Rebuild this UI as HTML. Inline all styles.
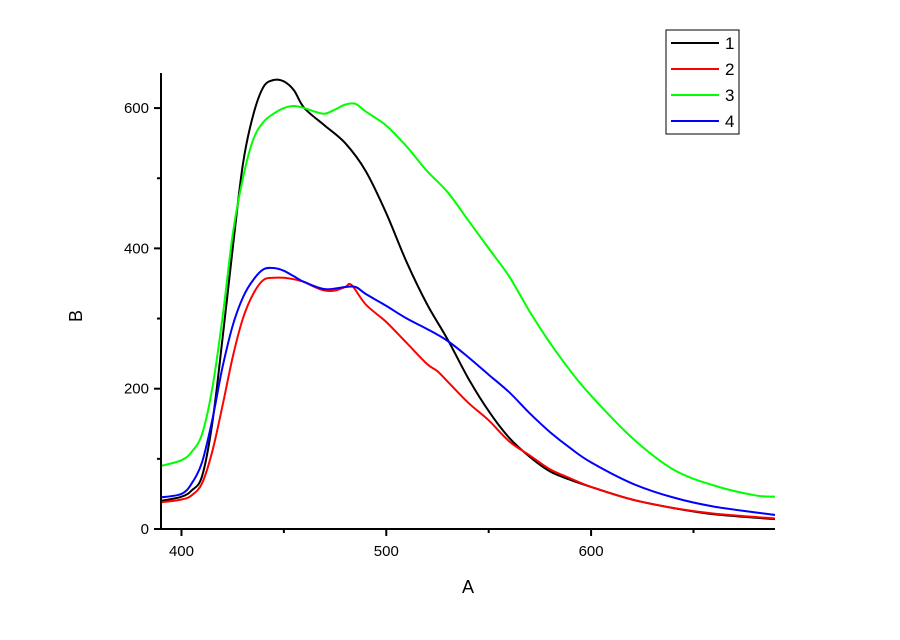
<!DOCTYPE html>
<html><head><meta charset="utf-8"><style>
body{margin:0;background:#fff;width:900px;height:635px;overflow:hidden}
text{font-family:"Liberation Sans",Arial,sans-serif}
</style></head><body>
<svg id="chart" width="900" height="635" xmlns="http://www.w3.org/2000/svg"></svg>
<script>
const xTicks=[400,500,600];
const xMinor=[450,550,650];
const yTicks=[0,200,400,600];
const yMinor=[100,300,500];
const seriesNames=["1","2","3","4"];
const seriesColors=["#000000","#ff0000","#00ff00","#0000ff"];
const x1=[390,400,405,410,415,420,425,430,435,440,445,450,455,460,470,480,490,500,510,520,530,540,550,560,570,580,590,600,620,640,660,690];
const y1=[40,46,55,75,150,270,400,520,590,630,640,638,625,600,575,550,510,450,380,320,270,215,168,130,103,82,70,60,42,30,21,14];
const x2=[390,400,405,410,415,420,425,430,435,440,445,450,455,460,465,470,475,480,483,490,500,510,520,525,530,540,550,560,570,580,590,600,620,640,660,690];
const y2=[38,42,48,65,110,175,245,300,335,355,358,358,356,352,345,340,340,345,348,320,295,265,235,225,210,180,155,125,105,85,72,60,42,30,22,15];
const x3=[390,400,405,410,415,420,425,430,435,440,445,450,455,460,465,470,475,480,485,490,500,510,520,530,540,550,560,570,580,590,600,620,640,660,680,690];
const y3=[90,98,110,135,200,300,420,500,555,580,592,600,603,600,595,592,598,605,606,595,575,545,510,480,440,400,360,310,265,225,190,130,85,62,48,46];
const x4=[390,400,405,410,415,420,425,430,435,440,445,450,455,460,470,480,485,490,500,510,520,530,540,550,560,570,580,590,600,620,640,660,690];
const y4=[45,50,65,95,155,230,290,330,355,370,372,368,360,352,342,345,345,335,318,300,285,268,245,220,195,165,138,115,95,65,45,32,20];
const xs=[x1,x2,x3,x4], ys=[y1,y2,y3,y4];

const NS="http://www.w3.org/2000/svg";
const svg=document.getElementById('chart');
const L=161,R=775,T=73,B=529,X0=390,X1=689.8,Y0=0,Y1=650;
const sx=v=>L+(v-X0)/(X1-X0)*(R-L);
const sy=v=>B-(v-Y0)/(Y1-Y0)*(B-T);
function mk(tag,attrs,parent){const e=document.createElementNS(NS,tag);for(const k in attrs)e.setAttribute(k,attrs[k]);(parent||svg).appendChild(e);return e;}
function smooth(pts){
  let d='M'+pts[0][0].toFixed(1)+','+pts[0][1].toFixed(1);
  for(let i=0;i<pts.length-1;i++){
    const p0=pts[Math.max(0,i-1)],p1=pts[i],p2=pts[i+1],p3=pts[Math.min(pts.length-1,i+2)];
    const c1=[p1[0]+(p2[0]-p0[0])/6,p1[1]+(p2[1]-p0[1])/6];
    const c2=[p2[0]-(p3[0]-p1[0])/6,p2[1]-(p3[1]-p1[1])/6];
    d+='C'+c1[0].toFixed(1)+','+c1[1].toFixed(1)+' '+c2[0].toFixed(1)+','+c2[1].toFixed(1)+' '+p2[0].toFixed(1)+','+p2[1].toFixed(1);
  }
  return d;
}

const clip=mk('clipPath',{id:'c'});mk('rect',{x:L,y:T-10,width:R-L,height:B-T+10},clip);

for(let i=0;i<xs.length;i++){
  const pts=xs[i].map((x,j)=>[sx(x),sy(ys[i][j])]);
  const p=mk('path',{d:smooth(pts),fill:'none',stroke:seriesColors[i],'stroke-width':2,'clip-path':'url(#c)','stroke-linejoin':'round'});
  
  
}

const ax=mk('path',{d:`M${L},${T}V${B}H${R}`,fill:'none',stroke:'#000','stroke-width':2});



xTicks.forEach(v=>{
  mk('line',{x1:sx(v),x2:sx(v),y1:B,y2:B+7,stroke:'#000','stroke-width':2});
  const t=mk('text',{x:sx(v),y:B+27,'text-anchor':'middle','font-size':15});t.textContent=v;
  
  
});
xMinor.forEach(v=>mk('line',{x1:sx(v),x2:sx(v),y1:B,y2:B+4,stroke:'#000','stroke-width':2}));
yTicks.forEach(v=>{
  mk('line',{x1:L-7,x2:L,y1:sy(v),y2:sy(v),stroke:'#000','stroke-width':2});
  const t=mk('text',{x:L-12,y:sy(v)+5,'text-anchor':'end','font-size':15});t.textContent=v;
  
  
});
yMinor.forEach(v=>mk('line',{x1:L-4,x2:L,y1:sy(v),y2:sy(v),stroke:'#000','stroke-width':2}));

const xt=mk('text',{x:468,y:593,'text-anchor':'middle','font-size':18});xt.textContent='A';


const yt=mk('text',{x:82,y:316,'text-anchor':'middle','font-size':18,transform:'rotate(-90 82 316)'});yt.textContent='B';



const lg=mk('g',{});


mk('rect',{x:666,y:30,width:73,height:104,fill:'#fff',stroke:'#000','stroke-width':1},lg);
seriesNames.forEach((n,i)=>{
  const y=43+i*26;
  const g=mk('g',{},lg);
  
  
  mk('line',{x1:671,x2:719,y1:y,y2:y,stroke:seriesColors[i],'stroke-width':2},g);
  const t=mk('text',{x:725,y:y+6,'font-size':17},g);t.textContent=n;
});
</script>
</body></html>
